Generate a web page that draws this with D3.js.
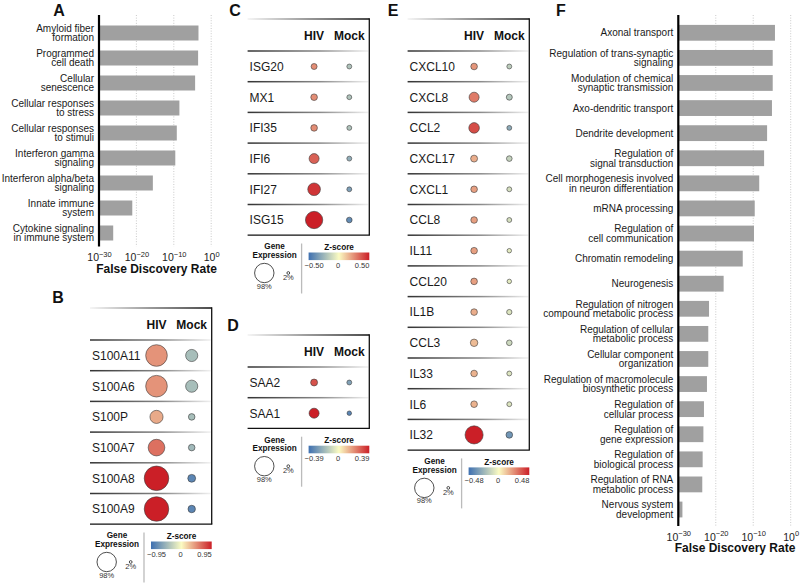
<!DOCTYPE html>
<html><head><meta charset="utf-8">
<script src="https://cdn.jsdelivr.net/npm/d3@7"></script>
<style>body{margin:0;background:#fff} svg{font-family:"Liberation Sans",Arial,Helvetica,sans-serif}</style>
</head><body><svg id="c" width="800" height="584"></svg>
<script>
// ---------- DATA ----------
const pathwaysA = ["Amyloid fiber\nformation","Programmed\ncell death","Cellular\nsenescence","Cellular responses\nto stress","Cellular responses\nto stimuli","Interferon gamma\nsignaling","Interferon alpha/beta\nsignaling","Innate immune\nsystem","Cytokine signaling\nin immune system"];
const log10FdrA = [-3.4,-3.5,-4.3,-8.5,-9.2,-9.6,-15.6,-21.1,-26.2];

const pathwaysF = ["Axonal transport","Regulation of trans-synaptic\nsignaling","Modulation of chemical\nsynaptic transmission","Axo-dendritic transport","Dendrite development","Regulation of\nsignal transduction","Cell morphogenesis involved\nin neuron differentiation","mRNA processing","Regulation of\ncell communication","Chromatin remodeling","Neurogenesis","Regulation of nitrogen\ncompound metabolic process","Regulation of cellular\nmetabolic process","Cellular component\norganization","Regulation of macromolecule\nbiosynthetic process","Regulation of\ncellular process","Regulation of\ngene expression","Regulation of\nbiological process","Regulation of RNA\nmetabolic process","Nervous system\ndevelopment"];
const log10FdrF = [-4.2,-4.8,-4.8,-5.0,-6.3,-7.1,-8.4,-9.6,-9.8,-12.8,-17.9,-21.8,-22.0,-22.0,-22.35,-23.15,-23.3,-23.5,-23.6,-28.9];

const fdrTicks = [-30,-20,-10,0];
const conditions = ["HIV","Mock"];

const genesB = ["S100A11","S100A6","S100P","S100A7","S100A8","S100A9"];
const zHivB = [0.45,0.45,0.35,0.6,0.95,0.95];
const zMockB = [-0.42,-0.42,-0.42,-0.45,-0.8,-0.8];
const pctHivB = [76,76,28,45,98,98];
const pctMockB = [24,24,7,7,10,9];
const zMaxB = 0.95;

const genesC = ["ISG20","MX1","IFI35","IFI6","IFI27","ISG15"];
const zHivC = [0.25,0.25,0.25,0.35,0.45,0.5];
const zMockC = [-0.2,-0.2,-0.2,-0.28,-0.33,-0.4];
const pctHivC = [9,11,11,25,40,75];
const pctMockC = [6,6,6,6,6,8];
const zMaxC = 0.50;

const genesD = ["SAA2","SAA1"];
const zHivD = [0.3,0.39];
const zMockD = [-0.25,-0.33];
const pctHivD = [12,25];
const pctMockD = [6,5];
const zMaxD = 0.39;

const genesE = ["CXCL10","CXCL8","CCL2","CXCL17","CXCL1","CCL8","IL11","CCL20","IL1B","CCL3","IL33","IL6","IL32"];
const zHivE = [0.22,0.28,0.38,0.17,0.2,0.2,0.2,0.2,0.17,0.14,0.16,0.16,0.48];
const zMockE = [-0.16,-0.18,-0.28,-0.14,-0.1,-0.1,-0.06,-0.06,-0.08,-0.12,-0.08,-0.08,-0.35];
const pctHivE = [11,25,28,12,11,11,11,11,11,14,11,11,82];
const pctMockE = [6,9,6,8,6,6,5,5,7,8,6,6,11];
const zMaxE = 0.48;

const legendPcts = [98,2];

// ---------- DRAWING ----------
const svg = d3.select("#c");
const defs = svg.append("defs");
const colorStops = ["#3e70b1","#fbfbc2","#cb1f27"];
function zColor(zmax){ return d3.scaleLinear().domain([-zmax,0,zmax]).range(colorStops).interpolate(d3.interpolateRgb); }

const gR = defs.append("linearGradient").attr("id","fadeR").attr("x1","0").attr("x2","1").attr("y1","0").attr("y2","0");
gR.append("stop").attr("offset","0").attr("stop-color","#333");
gR.append("stop").attr("offset","0.6").attr("stop-color","#8a8a8a");
gR.append("stop").attr("offset","1").attr("stop-color","#f0f0f0");
const gL = defs.append("linearGradient").attr("id","fadeL").attr("x1","0").attr("x2","1").attr("y1","0").attr("y2","0");
gL.append("stop").attr("offset","0").attr("stop-color","#f2f2f2");
gL.append("stop").attr("offset","0.5").attr("stop-color","#777");
gL.append("stop").attr("offset","1").attr("stop-color","#111");

function panelLetter(t,x,y){
  svg.append("text").attr("x",x).attr("y",y).attr("text-anchor","middle").attr("font-size",16).attr("font-weight","bold").attr("fill","#111").text(t);
}

function barPanel(cfg){
  const g = svg.append("g");
  const x = d3.scaleLinear().domain([-30,0]).range([cfg.x0, cfg.x1]);
  const y = d3.scaleBand().domain(cfg.cats).range([cfg.yb0,cfg.yb1]).paddingInner(cfg.pi).paddingOuter(cfg.pi/2);
  g.selectAll(".grid").data(fdrTicks.slice(1)).join("line")
    .attr("x1",d=>x(d)).attr("x2",d=>x(d)).attr("y1",cfg.top).attr("y2",cfg.bottom)
    .attr("stroke","#bdbdbd").attr("stroke-width",0.8).attr("stroke-dasharray","1,1.6");
  g.selectAll(".bar").data(cfg.cats).join("rect")
    .attr("x",x(-30)).attr("y",d=>y(d)).attr("height",y.bandwidth())
    .attr("width",(d,i)=>x(cfg.vals[i])-x(-30)).attr("fill","#a0a0a0");
  cfg.cats.forEach(c=>{
    const lines = c.split("\n");
    const cy = y(c)+y.bandwidth()/2;
    const t = g.append("text").attr("text-anchor","end").attr("font-size",10).attr("fill","#1a1a1a");
    lines.forEach((l,i)=>{
      t.append("tspan").attr("x",x(-30)-5).attr("y",cy+3.6+(i-(lines.length-1)/2)*9.6).text(l);
    });
  });
  g.append("line").attr("x1",x(-30)).attr("x2",x(-30)).attr("y1",cfg.top).attr("y2",cfg.bottom).attr("stroke","#000").attr("stroke-width",2.2);
  const ax = g.append("g").attr("transform",`translate(0,${cfg.bottom})`)
    .call(d3.axisBottom(x).tickValues(fdrTicks).tickSize(0).tickPadding(0));
  ax.select(".domain").remove();
  ax.selectAll(".tick text").each(function(d){
    const t = d3.select(this).text(null).attr("dy",null).attr("y",14.5).attr("font-size",10.5).attr("fill","#222").attr("font-family","'Liberation Sans',Arial,sans-serif");
    t.append("tspan").text("10");
    t.append("tspan").attr("dy",-4.5).attr("font-size",7.5).text(d===0?"0":"\u2212"+(-d));
  });
  g.append("text").attr("x",cfg.titleX).attr("y",cfg.bottom+26).attr("text-anchor","middle")
    .attr("font-size",12).attr("font-weight","bold").attr("fill","#111").text("False Discovery Rate");
}

function tablePanel(cfg){
  const g = svg.append("g");
  const L = cfg.L, W = 121.7, top = cfg.top, n = cfg.genes.length, pitch = 30.7;
  const y = d3.scalePoint().domain(cfg.genes).range([top+47.5, top+47.5+pitch*(n-1)]);
  const xc = d3.scalePoint().domain(conditions).range([L+66.5, L+101.7]);
  const r = d3.scaleSqrt().domain([0,100]).range([0,cfg.rMax]);
  const col = zColor(cfg.zMax);
  const bottom = top+32+n*pitch;
  g.append("rect").attr("x",L).attr("y",top-0.75).attr("width",W).attr("height",1.5).attr("fill","url(#fadeL)");
  d3.range(n).forEach(k=>{
    g.append("rect").attr("x",L).attr("y",top+32+k*pitch-0.75).attr("width",W-1).attr("height",1.5).attr("fill","url(#fadeR)");
  });
  g.append("line").attr("x1",L+W).attr("x2",L+W).attr("y1",top-0.75).attr("y2",bottom).attr("stroke","#111").attr("stroke-width",1.3);
  g.append("line").attr("x1",L).attr("x2",L+W+0.6).attr("y1",bottom).attr("y2",bottom).attr("stroke","#111").attr("stroke-width",1.3);
  g.selectAll(".hdr").data(conditions).join("text").attr("x",d=>xc(d)).attr("y",top+21.3)
    .attr("text-anchor","middle").attr("font-size",12).attr("font-weight","bold").attr("fill","#111").text(d=>d);
  g.selectAll(".gl").data(cfg.genes).join("text").attr("x",L+2).attr("y",d=>y(d)+4.3)
    .attr("font-size",12).attr("fill","#1a1a1a").text(d=>d);
  const pts = [];
  cfg.genes.forEach((gn,i)=>{
    pts.push({g:gn,c:"HIV",z:cfg.zH[i],p:cfg.pH[i]});
    pts.push({g:gn,c:"Mock",z:cfg.zM[i],p:cfg.pM[i]});
  });
  g.selectAll(".dot").data(pts).join("circle").attr("cx",d=>xc(d.c)).attr("cy",d=>y(d.g))
    .attr("r",d=>r(d.p)).attr("fill",d=>col(d.z)).attr("stroke","#3a3a3a").attr("stroke-width",0.6);
  // legend
  const T = bottom+12.3;
  const lg = svg.append("g");
  lg.append("text").attr("x",L+27).attr("y",T+1.8).attr("text-anchor","middle").attr("font-size",8.2).attr("font-weight","bold").attr("fill","#111").text("Gene");
  lg.append("text").attr("x",L+27).attr("y",T+10.6).attr("text-anchor","middle").attr("font-size",8.2).attr("font-weight","bold").attr("fill","#111").text("Expression");
  lg.append("line").attr("x1",L+54).attr("x2",L+54).attr("y1",T-4).attr("y2",T+46).attr("stroke","#bbb").attr("stroke-width",1.3);
  const lr = d3.scaleSqrt().domain([0,100]).range([0,9.8]);
  const lx = d3.scalePoint().domain(legendPcts).range([L+16.7, L+40.7]);
  lg.selectAll(".lc").data(legendPcts).join("circle").attr("cx",d=>lx(d)).attr("cy",T+25.5).attr("r",d=>lr(d))
    .attr("fill","none").attr("stroke","#222").attr("stroke-width",0.8);
  lg.selectAll(".lt").data(legendPcts).join("text").attr("x",d=>lx(d)).attr("y",d=>T+25.5+lr(d)+(d>50?5.8:5.6))
    .attr("text-anchor","middle").attr("font-size",7.5).attr("fill","#333").text(d=>d+"%");
  const gid = "cb"+cfg.id;
  const cg = defs.append("linearGradient").attr("id",gid);
  d3.range(0,1.0001,0.1).forEach(t=>cg.append("stop").attr("offset",t).attr("stop-color",col(-cfg.zMax+2*cfg.zMax*t)));
  const cx = d3.scaleLinear().domain([-cfg.zMax,cfg.zMax]).range([L+61,L+121.7]);
  lg.append("text").attr("x",L+91.5).attr("y",T+2.3).attr("text-anchor","middle").attr("font-size",8.2).attr("font-weight","bold").attr("fill","#111").text("Z-score");
  lg.append("rect").attr("x",cx(-cfg.zMax)).attr("y",T+5).attr("width",cx(cfg.zMax)-cx(-cfg.zMax)).attr("height",7.6).attr("fill",`url(#${gid})`);
  const tv = [-cfg.zMax,0,cfg.zMax];
  const tx = d3.scaleLinear().domain([-cfg.zMax,cfg.zMax]).range([L+66.5,L+114.5]);
  lg.selectAll(".ct").data(tv).join("text").attr("x",d=>tx(d)).attr("y",T+20.5).attr("text-anchor","middle")
    .attr("font-size",7.5).attr("fill","#333").text(d=>d===0?"0":(d<0?"\u2212":"")+Math.abs(d).toFixed(2));
}

barPanel({cats:pathwaysA, vals:log10FdrA, x0:99, x1:211.2, yb0:20.5, yb1:245.5, pi:0.4, top:15, bottom:246.5, titleX:156.5});
barPanel({cats:pathwaysF, vals:log10FdrF, x0:678.3, x1:790.7, yb0:20.25, yb1:522.05, pi:0.37, top:15, bottom:526, titleX:735});

tablePanel({id:"B", L:90, top:308, genes:genesB, zH:zHivB, zM:zMockB, pH:pctHivB, pM:pctMockB, zMax:zMaxB, rMax:12.4});
tablePanel({id:"C", L:247.6, top:19, genes:genesC, zH:zHivC, zM:zMockC, pH:pctHivC, pM:pctMockC, zMax:zMaxC, rMax:10});
tablePanel({id:"D", L:247.6, top:335, genes:genesD, zH:zHivD, zM:zMockD, pH:pctHivD, pM:pctMockD, zMax:zMaxD, rMax:10});
tablePanel({id:"E", L:407.6, top:19, genes:genesE, zH:zHivE, zM:zMockE, pH:pctHivE, pM:pctMockE, zMax:zMaxE, rMax:10});

panelLetter("A",59,16);
panelLetter("B",58,302.5);
panelLetter("C",235,16);
panelLetter("D",233,331);
panelLetter("E",393,16);
panelLetter("F",561,16);
</script></body></html>
